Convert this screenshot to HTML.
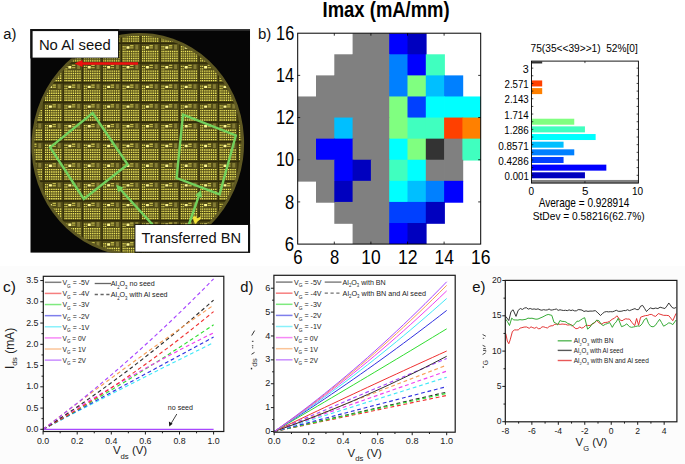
<!DOCTYPE html>
<html><head><meta charset="utf-8"><style>html,body{margin:0;padding:0;background:#fff;}svg{display:block;}</style></head>
<body><svg width="685" height="464" viewBox="0 0 685 464" font-family="Liberation Sans, sans-serif">
<rect width="685" height="464" fill="#fff"/>
<defs>
<clipPath id="wc"><ellipse cx="137.8" cy="144.5" rx="103.3" ry="108.8" transform="rotate(7.8 137.8 144.5)"/></clipPath>
<clipPath id="pc"><rect x="30.3" y="29.1" width="219.8" height="223.7"/></clipPath>
</defs>
<g clip-path="url(#pc)">
<rect x="30.3" y="29.1" width="219.8" height="223.7" fill="#060606"/>
<rect x="30.3" y="29.1" width="219.8" height="1.6" fill="#3a3a3a"/>
<ellipse cx="137.8" cy="144.5" rx="106.2" ry="111.7" transform="rotate(7.8 137.8 144.5)" fill="#5e5822"/>
<g clip-path="url(#wc)">
<rect x="30" y="29" width="221" height="224" fill="#524c17"/>
<path d="M25.6,31.75h232.8M25.6,51.45h232.8M25.6,71.15h232.8M25.6,90.85h232.8M25.6,110.55h232.8M25.6,130.25h232.8M25.6,149.95h232.8M25.6,169.65h232.8M25.6,189.35h232.8M25.6,209.05h232.8M25.6,228.75h232.8M25.6,248.45h232.8" stroke="#f0e85e" stroke-width="1.35" stroke-dasharray="1.2 0.6 1.2 0.9 1.4 0.8 1.4 0.8 1.4 0.8 1.4 0.8 1.4 0.8 1.4 3.1" fill="none"/>
<path d="M25.6,34.1h232.8M25.6,53.8h232.8M25.6,73.5h232.8M25.6,93.2h232.8M25.6,112.9h232.8M25.6,132.6h232.8M25.6,152.3h232.8M25.6,172h232.8M25.6,191.7h232.8M25.6,211.4h232.8M25.6,231.1h232.8M25.6,250.8h232.8" stroke="#f0e85e" stroke-width="1.35" stroke-dasharray="1.2 0.6 1.2 0.9 1.4 0.8 1.4 0.8 1.4 0.8 1.4 0.8 1.4 0.8 1.4 3.1" fill="none"/>
<path d="M25.6,36.45h232.8M25.6,56.15h232.8M25.6,75.85h232.8M25.6,95.55h232.8M25.6,115.25h232.8M25.6,134.95h232.8M25.6,154.65h232.8M25.6,174.35h232.8M25.6,194.05h232.8M25.6,213.75h232.8M25.6,233.45h232.8M25.6,253.15h232.8" stroke="#f0e85e" stroke-width="1.35" stroke-dasharray="1.2 0.6 1.2 0.9 1.4 0.8 1.4 0.8 1.4 0.8 1.4 0.8 1.4 0.8 1.4 3.1" fill="none"/>
<path d="M25.6,38.8h232.8M25.6,58.5h232.8M25.6,78.2h232.8M25.6,97.9h232.8M25.6,117.6h232.8M25.6,137.3h232.8M25.6,157h232.8M25.6,176.7h232.8M25.6,196.4h232.8M25.6,216.1h232.8M25.6,235.8h232.8M25.6,255.5h232.8" stroke="#f0e85e" stroke-width="1.35" stroke-dasharray="1.2 0.6 1.2 0.9 1.4 0.8 1.4 0.8 1.4 0.8 1.4 0.8 1.4 0.8 1.4 3.1" fill="none"/>
<path d="M25.6,41.15h232.8M25.6,60.85h232.8M25.6,80.55h232.8M25.6,100.25h232.8M25.6,119.95h232.8M25.6,139.65h232.8M25.6,159.35h232.8M25.6,179.05h232.8M25.6,198.75h232.8M25.6,218.45h232.8M25.6,238.15h232.8M25.6,257.85h232.8" stroke="#f0e85e" stroke-width="1.35" stroke-dasharray="1.2 0.6 1.2 0.9 1.4 0.8 1.4 0.8 1.4 0.8 1.4 0.8 1.4 0.8 1.4 3.1" fill="none"/>
<path d="M25.6,27.05h232.8M25.6,46.75h232.8M25.6,66.45h232.8M25.6,86.15h232.8M25.6,105.85h232.8M25.6,125.55h232.8M25.6,145.25h232.8M25.6,164.95h232.8M25.6,184.65h232.8M25.6,204.35h232.8M25.6,224.05h232.8M25.6,243.75h232.8" stroke="#ded656" stroke-width="1.3" stroke-dasharray="1.2 0.6 1.2 16.4" fill="none"/>
<path d="M25.6,29.4h232.8M25.6,49.1h232.8M25.6,68.8h232.8M25.6,88.5h232.8M25.6,108.2h232.8M25.6,127.9h232.8M25.6,147.6h232.8M25.6,167.3h232.8M25.6,187h232.8M25.6,206.7h232.8M25.6,226.4h232.8M25.6,246.1h232.8" stroke="#ded656" stroke-width="1.3" stroke-dasharray="1.2 0.6 1.2 16.4" fill="none"/>
<path d="M29.5,27.8h232.8M29.5,47.5h232.8M29.5,67.2h232.8M29.5,86.9h232.8M29.5,106.6h232.8M29.5,126.3h232.8M29.5,146h232.8M29.5,165.7h232.8M29.5,185.4h232.8M29.5,205.1h232.8M29.5,224.8h232.8M29.5,244.5h232.8" stroke="#fff890" stroke-width="2.4" stroke-dasharray="3 16.4" fill="none"/>
<path d="M33.1,26.05h232.8M33.1,45.75h232.8M33.1,65.45h232.8M33.1,85.15h232.8M33.1,104.85h232.8M33.1,124.55h232.8M33.1,144.25h232.8M33.1,163.95h232.8M33.1,183.65h232.8M33.1,203.35h232.8M33.1,223.05h232.8M33.1,242.75h232.8" stroke="#c4bc4c" stroke-width="1.3" stroke-dasharray="3.4 16" fill="none"/>
<path d="M33.1,28.15h232.8M33.1,47.85h232.8M33.1,67.55h232.8M33.1,87.25h232.8M33.1,106.95h232.8M33.1,126.65h232.8M33.1,146.35h232.8M33.1,166.05h232.8M33.1,185.75h232.8M33.1,205.45h232.8M33.1,225.15h232.8M33.1,244.85h232.8" stroke="#b4ac44" stroke-width="1.3" stroke-dasharray="3.4 16" fill="none"/>
<path d="M38.3,27.4h232.8M38.3,47.1h232.8M38.3,66.8h232.8M38.3,86.5h232.8M38.3,106.2h232.8M38.3,125.9h232.8M38.3,145.6h232.8M38.3,165.3h232.8M38.3,185h232.8M38.3,204.7h232.8M38.3,224.4h232.8M38.3,244.1h232.8" stroke="#847c34" stroke-width="4.6" stroke-dasharray="3 16.4" fill="none"/>
<path d="M30,23.6h221M30,43.3h221M30,63h221M30,82.7h221M30,102.4h221M30,122.1h221M30,141.8h221M30,161.5h221M30,181.2h221M30,200.9h221M30,220.6h221M30,240.3h221" stroke="#302b0a" stroke-width="1.6" fill="none"/>
<path d="M24.5,29v224M43.9,29v224M63.3,29v224M82.7,29v224M102.1,29v224M121.5,29v224M140.9,29v224M160.3,29v224M179.7,29v224M199.1,29v224M218.5,29v224M237.9,29v224" stroke="#332e0a" stroke-width="1.0" fill="none"/>
</g>
</g>
<polygon points="192.8,216.8 195.5,216.2 197.4,218.2 200.8,216.6 200.2,219.4 197.6,221.6 195.6,224 193.6,221.2" fill="#f2e238"/>
<polygon points="92.6,113 127.7,164.5 83.8,199 50.2,147.4" fill="none" stroke="#72d05c" stroke-width="2.4" stroke-linejoin="miter"/>
<polygon points="183,114.6 235.8,135.5 219.6,194.3 176.6,178" fill="none" stroke="#72d05c" stroke-width="2.4"/>
<line x1="152.9" y1="225" x2="120.48" y2="189.5" stroke="#72d05c" stroke-width="2.4"/>
<polygon points="116.1,184.7 123.48,187.44 118.16,192.3" fill="#72d05c"/>
<line x1="188.7" y1="225" x2="198.77" y2="196.04" stroke="#72d05c" stroke-width="2.4"/>
<polygon points="200.9,189.9 202,197.69 195.2,195.33" fill="#72d05c"/>
<line x1="138.1" y1="63.5" x2="82.1" y2="63.5" stroke="#f01010" stroke-width="2.6"/>
<polygon points="74.6,63.5 82.6,60 82.6,67" fill="#f01010"/>
<rect x="30.3" y="29.1" width="88.6" height="29.3" fill="#101010"/>
<rect x="32.6" y="31.1" width="85.4" height="26.5" fill="#fff"/>
<text x="38.91" y="50" font-size="15.36" textLength="71.78" lengthAdjust="spacingAndGlyphs" fill="#111">No Al seed</text>
<rect x="134.6" y="224.2" width="115.5" height="28.6" fill="#101010"/>
<rect x="135.4" y="225" width="112.6" height="26.6" fill="#fff"/>
<text x="141.41" y="243" font-size="15.36" textLength="99.72" lengthAdjust="spacingAndGlyphs" fill="#111">Transferred BN</text>
<text x="3.31" y="38.68" font-size="14.87" textLength="13.14" lengthAdjust="spacingAndGlyphs" fill="#111">a)</text>
<rect x="297.7" y="33.2" width="183" height="210.9" fill="#fff"/>
<clipPath id="hm"><rect x="297.7" y="33.2" width="183" height="210.9"/></clipPath><g clip-path="url(#hm)">
<rect x="352.6" y="33.2" width="19.1" height="21.89" fill="#808080"/>
<rect x="370.9" y="33.2" width="19.1" height="21.89" fill="#808080"/>
<rect x="389.2" y="33.2" width="19.1" height="21.89" fill="#0000ff"/>
<rect x="407.5" y="33.2" width="19.1" height="21.89" fill="#0000bf"/>
<rect x="334.3" y="54.29" width="19.1" height="21.89" fill="#808080"/>
<rect x="352.6" y="54.29" width="19.1" height="21.89" fill="#808080"/>
<rect x="370.9" y="54.29" width="19.1" height="21.89" fill="#808080"/>
<rect x="389.2" y="54.29" width="19.1" height="21.89" fill="#0080ff"/>
<rect x="407.5" y="54.29" width="19.1" height="21.89" fill="#0000ff"/>
<rect x="425.8" y="54.29" width="19.1" height="21.89" fill="#40ffbf"/>
<rect x="316" y="75.38" width="19.1" height="21.89" fill="#808080"/>
<rect x="334.3" y="75.38" width="19.1" height="21.89" fill="#808080"/>
<rect x="352.6" y="75.38" width="19.1" height="21.89" fill="#808080"/>
<rect x="370.9" y="75.38" width="19.1" height="21.89" fill="#808080"/>
<rect x="389.2" y="75.38" width="19.1" height="21.89" fill="#0080ff"/>
<rect x="407.5" y="75.38" width="19.1" height="21.89" fill="#80ff80"/>
<rect x="425.8" y="75.38" width="19.1" height="21.89" fill="#00bfff"/>
<rect x="444.1" y="75.38" width="19.1" height="21.89" fill="#0080ff"/>
<rect x="297.7" y="96.47" width="19.1" height="21.89" fill="#808080"/>
<rect x="316" y="96.47" width="19.1" height="21.89" fill="#808080"/>
<rect x="334.3" y="96.47" width="19.1" height="21.89" fill="#808080"/>
<rect x="352.6" y="96.47" width="19.1" height="21.89" fill="#808080"/>
<rect x="370.9" y="96.47" width="19.1" height="21.89" fill="#808080"/>
<rect x="389.2" y="96.47" width="19.1" height="21.89" fill="#80ff80"/>
<rect x="407.5" y="96.47" width="19.1" height="21.89" fill="#0040ff"/>
<rect x="425.8" y="96.47" width="19.1" height="21.89" fill="#00ffff"/>
<rect x="444.1" y="96.47" width="19.1" height="21.89" fill="#00ffff"/>
<rect x="462.4" y="96.47" width="19.1" height="21.89" fill="#00ffff"/>
<rect x="297.7" y="117.56" width="19.1" height="21.89" fill="#808080"/>
<rect x="316" y="117.56" width="19.1" height="21.89" fill="#808080"/>
<rect x="334.3" y="117.56" width="19.1" height="21.89" fill="#00bfff"/>
<rect x="352.6" y="117.56" width="19.1" height="21.89" fill="#808080"/>
<rect x="370.9" y="117.56" width="19.1" height="21.89" fill="#808080"/>
<rect x="389.2" y="117.56" width="19.1" height="21.89" fill="#80ff80"/>
<rect x="407.5" y="117.56" width="19.1" height="21.89" fill="#40ffbf"/>
<rect x="425.8" y="117.56" width="19.1" height="21.89" fill="#40ffbf"/>
<rect x="444.1" y="117.56" width="19.1" height="21.89" fill="#ff4000"/>
<rect x="462.4" y="117.56" width="19.1" height="21.89" fill="#ff8000"/>
<rect x="297.7" y="138.65" width="19.1" height="21.89" fill="#808080"/>
<rect x="316" y="138.65" width="19.1" height="21.89" fill="#0000ff"/>
<rect x="334.3" y="138.65" width="19.1" height="21.89" fill="#0000ff"/>
<rect x="352.6" y="138.65" width="19.1" height="21.89" fill="#808080"/>
<rect x="370.9" y="138.65" width="19.1" height="21.89" fill="#808080"/>
<rect x="389.2" y="138.65" width="19.1" height="21.89" fill="#00ffff"/>
<rect x="407.5" y="138.65" width="19.1" height="21.89" fill="#80ff80"/>
<rect x="425.8" y="138.65" width="19.1" height="21.89" fill="#333333"/>
<rect x="444.1" y="138.65" width="19.1" height="21.89" fill="#808080"/>
<rect x="462.4" y="138.65" width="19.1" height="21.89" fill="#40ffbf"/>
<rect x="297.7" y="159.74" width="19.1" height="21.89" fill="#808080"/>
<rect x="316" y="159.74" width="19.1" height="21.89" fill="#808080"/>
<rect x="334.3" y="159.74" width="19.1" height="21.89" fill="#0000ff"/>
<rect x="352.6" y="159.74" width="19.1" height="21.89" fill="#0000bf"/>
<rect x="370.9" y="159.74" width="19.1" height="21.89" fill="#808080"/>
<rect x="389.2" y="159.74" width="19.1" height="21.89" fill="#40ffbf"/>
<rect x="407.5" y="159.74" width="19.1" height="21.89" fill="#00ffff"/>
<rect x="425.8" y="159.74" width="19.1" height="21.89" fill="#808080"/>
<rect x="444.1" y="159.74" width="19.1" height="21.89" fill="#808080"/>
<rect x="316" y="180.83" width="19.1" height="21.89" fill="#808080"/>
<rect x="334.3" y="180.83" width="19.1" height="21.89" fill="#0000bf"/>
<rect x="352.6" y="180.83" width="19.1" height="21.89" fill="#808080"/>
<rect x="370.9" y="180.83" width="19.1" height="21.89" fill="#808080"/>
<rect x="389.2" y="180.83" width="19.1" height="21.89" fill="#00ffff"/>
<rect x="407.5" y="180.83" width="19.1" height="21.89" fill="#00bfff"/>
<rect x="425.8" y="180.83" width="19.1" height="21.89" fill="#0080ff"/>
<rect x="444.1" y="180.83" width="19.1" height="21.89" fill="#0000ff"/>
<rect x="334.3" y="201.92" width="19.1" height="21.89" fill="#808080"/>
<rect x="352.6" y="201.92" width="19.1" height="21.89" fill="#808080"/>
<rect x="370.9" y="201.92" width="19.1" height="21.89" fill="#808080"/>
<rect x="389.2" y="201.92" width="19.1" height="21.89" fill="#0040ff"/>
<rect x="407.5" y="201.92" width="19.1" height="21.89" fill="#0040ff"/>
<rect x="425.8" y="201.92" width="19.1" height="21.89" fill="#0000bf"/>
<rect x="352.6" y="223.01" width="19.1" height="21.89" fill="#808080"/>
<rect x="370.9" y="223.01" width="19.1" height="21.89" fill="#808080"/>
<rect x="389.2" y="223.01" width="19.1" height="21.89" fill="#0000ff"/>
<rect x="407.5" y="223.01" width="19.1" height="21.89" fill="#0000bf"/>
</g>
<path d="M334.3,33.2v2.5M334.3,244.1v-2.5M297.7,75.38h2.5M480.7,75.38h-2.5M370.9,33.2v2.5M370.9,244.1v-2.5M297.7,117.56h2.5M480.7,117.56h-2.5M407.5,33.2v2.5M407.5,244.1v-2.5M297.7,159.74h2.5M480.7,159.74h-2.5M444.1,33.2v2.5M444.1,244.1v-2.5M297.7,201.92h2.5M480.7,201.92h-2.5" stroke="#000" stroke-width="0.8" fill="none"/>
<rect x="297.7" y="33.2" width="183" height="210.9" fill="none" stroke="#000" stroke-width="1"/>
<text x="276.08" y="39.89" font-size="20.56" textLength="18.11" lengthAdjust="spacingAndGlyphs" fill="#000">16</text>
<text x="276.09" y="82.07" font-size="20.56" textLength="17.93" lengthAdjust="spacingAndGlyphs" fill="#000">14</text>
<text x="276.07" y="124.25" font-size="20.56" textLength="18.29" lengthAdjust="spacingAndGlyphs" fill="#000">12</text>
<text x="276.09" y="166.43" font-size="20.56" textLength="18.02" lengthAdjust="spacingAndGlyphs" fill="#000">10</text>
<text x="284.95" y="208.61" font-size="20.56" textLength="9.23" lengthAdjust="spacingAndGlyphs" fill="#000">8</text>
<text x="284.86" y="250.79" font-size="20.56" textLength="9.33" lengthAdjust="spacingAndGlyphs" fill="#000">6</text>
<text x="293.36" y="264.49" font-size="21.13" textLength="9.33" lengthAdjust="spacingAndGlyphs" fill="#000">6</text>
<text x="330.05" y="264.49" font-size="21.13" textLength="9.23" lengthAdjust="spacingAndGlyphs" fill="#000">8</text>
<text x="361.29" y="264.49" font-size="21.13" textLength="19.35" lengthAdjust="spacingAndGlyphs" fill="#000">10</text>
<text x="397.88" y="264.49" font-size="21.13" textLength="19.65" lengthAdjust="spacingAndGlyphs" fill="#000">12</text>
<text x="434.5" y="264.49" font-size="21.13" textLength="19.26" lengthAdjust="spacingAndGlyphs" fill="#000">14</text>
<text x="471.09" y="264.49" font-size="21.13" textLength="19.45" lengthAdjust="spacingAndGlyphs" fill="#000">16</text>
<text x="322.6" y="17.4" font-size="22.68" font-weight="bold" textLength="127.04" lengthAdjust="spacingAndGlyphs" fill="#000">Imax (mA/mm)</text>
<text x="258.02" y="38.68" font-size="14.87" textLength="13.34" lengthAdjust="spacingAndGlyphs" fill="#111">b)</text>
<clipPath id="hc"><rect x="531.5" y="61.5" width="106.9" height="121.6"/></clipPath>
<g clip-path="url(#hc)">
<rect x="531.5" y="179.95" width="112.24" height="6" fill="#808080"/>
<rect x="531.5" y="172.3" width="53.45" height="6" fill="#0000bf"/>
<rect x="531.5" y="164.64" width="74.83" height="6" fill="#0000ff"/>
<rect x="531.5" y="156.99" width="32.07" height="6" fill="#0040ff"/>
<rect x="531.5" y="149.33" width="42.76" height="6" fill="#0080ff"/>
<rect x="531.5" y="141.68" width="32.07" height="6" fill="#00bfff"/>
<rect x="531.5" y="134.03" width="64.14" height="6" fill="#00ffff"/>
<rect x="531.5" y="126.37" width="53.45" height="6" fill="#40ffbf"/>
<rect x="531.5" y="118.72" width="42.76" height="6" fill="#80ff80"/>
<rect x="531.5" y="88.1" width="10.69" height="6" fill="#ff8000"/>
<rect x="531.5" y="80.45" width="10.69" height="6" fill="#ff4000"/>
<rect x="531.5" y="57.49" width="10.69" height="6" fill="#333333"/>
</g>
<path d="M531.5,175.3h1.8M638.4,175.3h-1.8M531.5,167.64h1.8M638.4,167.64h-1.8M531.5,159.99h1.8M638.4,159.99h-1.8M531.5,152.33h1.8M638.4,152.33h-1.8M531.5,144.68h1.8M638.4,144.68h-1.8M531.5,137.03h1.8M638.4,137.03h-1.8M531.5,129.37h1.8M638.4,129.37h-1.8M531.5,121.72h1.8M638.4,121.72h-1.8M531.5,114.06h1.8M638.4,114.06h-1.8M531.5,106.41h1.8M638.4,106.41h-1.8M531.5,98.76h1.8M638.4,98.76h-1.8M531.5,91.1h1.8M638.4,91.1h-1.8M531.5,83.45h1.8M638.4,83.45h-1.8M531.5,75.79h1.8M638.4,75.79h-1.8M531.5,68.14h1.8M638.4,68.14h-1.8M584.95,61.1v2M584.95,183.1v-2" stroke="#000" stroke-width="0.7" fill="none"/>
<rect x="531.5" y="61.1" width="106.9" height="122" fill="none" stroke="#000" stroke-width="0.9"/>
<text x="504.61" y="180.49" font-size="10.7" textLength="24.14" lengthAdjust="spacingAndGlyphs" fill="#000">0.001</text>
<text x="498.3" y="165.09" font-size="10.7" textLength="30.38" lengthAdjust="spacingAndGlyphs" fill="#000">0.4286</text>
<text x="498.3" y="149.69" font-size="10.7" textLength="30.43" lengthAdjust="spacingAndGlyphs" fill="#000">0.8571</text>
<text x="504.27" y="134.29" font-size="10.7" textLength="24.45" lengthAdjust="spacingAndGlyphs" fill="#000">1.286</text>
<text x="504.27" y="118.89" font-size="10.7" textLength="24.35" lengthAdjust="spacingAndGlyphs" fill="#000">1.714</text>
<text x="504.52" y="103.49" font-size="10.7" textLength="24.19" lengthAdjust="spacingAndGlyphs" fill="#000">2.143</text>
<text x="504.52" y="88.09" font-size="10.7" textLength="24.24" lengthAdjust="spacingAndGlyphs" fill="#000">2.571</text>
<text x="522.77" y="72.69" font-size="10.7" textLength="5.97" lengthAdjust="spacingAndGlyphs" fill="#000">3</text>
<text x="528.6" y="194.89" font-size="10.85" textLength="5.56" lengthAdjust="spacingAndGlyphs" fill="#000">0</text>
<text x="582.04" y="194.89" font-size="10.85" textLength="6.44" lengthAdjust="spacingAndGlyphs" fill="#000">5</text>
<text x="631.95" y="194.89" font-size="10.85" textLength="11.12" lengthAdjust="spacingAndGlyphs" fill="#000">10</text>
<text x="530.59" y="51.59" font-size="10.7" textLength="107.26" lengthAdjust="spacingAndGlyphs" fill="#000" xml:space="preserve">75(35&lt;&lt;39&gt;&gt;1)  52%[0]</text>
<text x="538.7" y="207.4" font-size="11.88" textLength="90.63" lengthAdjust="spacingAndGlyphs" fill="#000">Average = 0.928914</text>
<text x="532.74" y="220.39" font-size="11.27" textLength="111.91" lengthAdjust="spacingAndGlyphs" fill="#000">StDev = 0.58216(62.7%)</text>
<rect x="0" y="266" width="685" height="198" fill="#fcfcfc"/>
<rect x="43.3" y="276.3" width="180.5" height="155.2" fill="#fff"/>
<path d="M43.1,429.3 L50.2,425.58 L57.31,421.88 L64.41,418.18 L71.52,414.49 L78.62,410.81 L85.72,407.14 L92.83,403.48 L99.93,399.82 L107.04,396.18 L114.14,392.54 L121.25,388.92 L128.35,385.3 L135.45,381.69 L142.56,378.09 L149.66,374.5 L156.77,370.92 L163.87,367.35 L170.97,363.79 L178.08,360.23 L185.18,356.69 L192.29,353.15 L199.39,349.63 L206.5,346.11 L213.6,342.6" fill="none" stroke="#40e8f8" stroke-width="1.15" stroke-dasharray="3.8 2.8"/>
<path d="M43.1,429.3 L50.2,425.46 L57.31,421.61 L64.41,417.77 L71.52,413.93 L78.62,410.09 L85.72,406.24 L92.83,402.4 L99.93,398.56 L107.04,394.72 L114.14,390.87 L121.25,387.03 L128.35,383.19 L135.45,379.34 L142.56,375.5 L149.66,371.66 L156.77,367.82 L163.87,363.97 L170.97,360.13 L178.08,356.29 L185.18,352.45 L192.29,348.6 L199.39,344.76 L206.5,340.92 L213.6,337.08" fill="none" stroke="#3030e0" stroke-width="1.15" stroke-dasharray="3.8 2.8"/>
<path d="M43.1,429.3 L50.2,425.36 L57.31,421.39 L64.41,417.37 L71.52,413.33 L78.62,409.24 L85.72,405.12 L92.83,400.97 L99.93,396.77 L107.04,392.54 L114.14,388.28 L121.25,383.98 L128.35,379.64 L135.45,375.26 L142.56,370.85 L149.66,366.41 L156.77,361.92 L163.87,357.4 L170.97,352.85 L178.08,348.26 L185.18,343.63 L192.29,338.96 L199.39,334.26 L206.5,329.52 L213.6,324.75" fill="none" stroke="#30dd30" stroke-width="1.15" stroke-dasharray="3.8 2.8"/>
<path d="M43.1,429.3 L50.2,424.78 L57.31,420.3 L64.41,415.87 L71.52,411.48 L78.62,407.13 L85.72,402.83 L92.83,398.57 L99.93,394.35 L107.04,390.18 L114.14,386.05 L121.25,381.97 L128.35,377.93 L135.45,373.93 L142.56,369.97 L149.66,366.06 L156.77,362.2 L163.87,358.37 L170.97,354.59 L178.08,350.86 L185.18,347.16 L192.29,343.51 L199.39,339.91 L206.5,336.34 L213.6,332.83" fill="none" stroke="#f040f0" stroke-width="1.15" stroke-dasharray="3.8 2.8"/>
<path d="M43.1,429.3 L50.2,425.33 L57.31,421.29 L64.41,417.16 L71.52,412.95 L78.62,408.66 L85.72,404.28 L92.83,399.83 L99.93,395.29 L107.04,390.67 L114.14,385.97 L121.25,381.19 L128.35,376.32 L135.45,371.38 L142.56,366.35 L149.66,361.24 L156.77,356.05 L163.87,350.78 L170.97,345.42 L178.08,339.98 L185.18,334.47 L192.29,328.87 L199.39,323.18 L206.5,317.42 L213.6,311.58" fill="none" stroke="#f03030" stroke-width="1.15" stroke-dasharray="3.8 2.8"/>
<path d="M43.1,429.3 L50.2,424.77 L57.31,420.16 L64.41,415.48 L71.52,410.73 L78.62,405.9 L85.72,401 L92.83,396.02 L99.93,390.97 L107.04,385.85 L114.14,380.65 L121.25,375.38 L128.35,370.03 L135.45,364.61 L142.56,359.11 L149.66,353.55 L156.77,347.9 L163.87,342.19 L170.97,336.4 L178.08,330.53 L185.18,324.59 L192.29,318.58 L199.39,312.5 L206.5,306.33 L213.6,300.1" fill="none" stroke="#303030" stroke-width="1.15" stroke-dasharray="3.8 2.8"/>
<path d="M43.1,429.3 L50.2,423.88 L57.31,418.48 L64.41,413.11 L71.52,407.75 L78.62,402.42 L85.72,397.11 L92.83,391.82 L99.93,386.55 L107.04,381.31 L114.14,376.08 L121.25,370.88 L128.35,365.7 L135.45,360.54 L142.56,355.4 L149.66,350.28 L156.77,345.19 L163.87,340.11 L170.97,335.06 L178.08,330.03 L185.18,325.02 L192.29,320.03 L199.39,315.07 L206.5,310.12 L213.6,305.2" fill="none" stroke="#f8a058" stroke-width="1.15" stroke-dasharray="3.8 2.8"/>
<path d="M43.1,429.3 L50.2,423.99 L57.31,418.6 L64.41,413.13 L71.52,407.57 L78.62,401.93 L85.72,396.2 L92.83,390.39 L99.93,384.5 L107.04,378.52 L114.14,372.46 L121.25,366.32 L128.35,360.09 L135.45,353.78 L142.56,347.39 L149.66,340.91 L156.77,334.35 L163.87,327.7 L170.97,320.98 L178.08,314.16 L185.18,307.27 L192.29,300.29 L199.39,293.23 L206.5,286.08 L213.6,278.85" fill="none" stroke="#a848ff" stroke-width="1.15" stroke-dasharray="3.8 2.8"/>
<line x1="43.1" y1="429.3" x2="213.6" y2="429.3" stroke="#a848ff" stroke-width="1.3"/>
<path d="M43.3,429.3h-3M43.3,408.05h-3M43.3,386.8h-3M43.3,365.55h-3M43.3,344.3h-3M43.3,323.05h-3M43.3,301.8h-3M43.3,280.55h-3M43.3,418.68h-1.8M43.3,397.43h-1.8M43.3,376.18h-1.8M43.3,354.93h-1.8M43.3,333.68h-1.8M43.3,312.43h-1.8M43.3,291.18h-1.8M43.1,431.5v3M77.2,431.5v3M111.3,431.5v3M145.4,431.5v3M179.5,431.5v3M213.6,431.5v3M60.15,431.5v1.8M94.25,431.5v1.8M128.35,431.5v1.8M162.45,431.5v1.8M196.55,431.5v1.8" stroke="#1a1a1a" stroke-width="1" fill="none"/>
<rect x="43.3" y="276.3" width="180.5" height="155.2" fill="none" stroke="#1a1a1a" stroke-width="1.2"/>
<text x="38.4" y="431.85" font-size="8.8" text-anchor="end" fill="#1a1a1a">0.0</text>
<text x="38.4" y="410.6" font-size="8.8" text-anchor="end" fill="#1a1a1a">0.5</text>
<text x="38.4" y="389.35" font-size="8.8" text-anchor="end" fill="#1a1a1a">1.0</text>
<text x="38.4" y="368.1" font-size="8.8" text-anchor="end" fill="#1a1a1a">1.5</text>
<text x="38.4" y="346.85" font-size="8.8" text-anchor="end" fill="#1a1a1a">2.0</text>
<text x="38.4" y="325.6" font-size="8.8" text-anchor="end" fill="#1a1a1a">2.5</text>
<text x="38.4" y="304.35" font-size="8.8" text-anchor="end" fill="#1a1a1a">3.0</text>
<text x="38.4" y="283.1" font-size="8.8" text-anchor="end" fill="#1a1a1a">3.5</text>
<text x="43.1" y="443.7" font-size="8.8" text-anchor="middle" fill="#1a1a1a">0.0</text>
<text x="77.2" y="443.7" font-size="8.8" text-anchor="middle" fill="#1a1a1a">0.2</text>
<text x="111.3" y="443.7" font-size="8.8" text-anchor="middle" fill="#1a1a1a">0.4</text>
<text x="145.4" y="443.7" font-size="8.8" text-anchor="middle" fill="#1a1a1a">0.6</text>
<text x="179.5" y="443.7" font-size="8.8" text-anchor="middle" fill="#1a1a1a">0.8</text>
<text x="213.6" y="443.7" font-size="8.8" text-anchor="middle" fill="#1a1a1a">1.0</text>
<line x1="44.8" y1="282.3" x2="61.4" y2="282.3" stroke="#303030" stroke-width="1.5" stroke-opacity="0.62"/>
<text x="62.5" y="285.2" font-size="8" fill="#222" textLength="26.9" lengthAdjust="spacingAndGlyphs">V<tspan font-size="5.44" dy="2.4">G</tspan><tspan dy="-2.4"> = -5V</tspan></text>
<line x1="44.8" y1="293.42" x2="61.4" y2="293.42" stroke="#f03030" stroke-width="1.5" stroke-opacity="0.62"/>
<text x="62.5" y="296.32" font-size="8" fill="#222" textLength="26.9" lengthAdjust="spacingAndGlyphs">V<tspan font-size="5.44" dy="2.4">G</tspan><tspan dy="-2.4"> = -4V</tspan></text>
<line x1="44.8" y1="304.54" x2="61.4" y2="304.54" stroke="#30dd30" stroke-width="1.5" stroke-opacity="0.62"/>
<text x="62.5" y="307.44" font-size="8" fill="#222" textLength="26.9" lengthAdjust="spacingAndGlyphs">V<tspan font-size="5.44" dy="2.4">G</tspan><tspan dy="-2.4"> = -3V</tspan></text>
<line x1="44.8" y1="315.66" x2="61.4" y2="315.66" stroke="#3030e0" stroke-width="1.5" stroke-opacity="0.62"/>
<text x="62.5" y="318.56" font-size="8" fill="#222" textLength="26.9" lengthAdjust="spacingAndGlyphs">V<tspan font-size="5.44" dy="2.4">G</tspan><tspan dy="-2.4"> = -2V</tspan></text>
<line x1="44.8" y1="326.78" x2="61.4" y2="326.78" stroke="#40e8f8" stroke-width="1.5" stroke-opacity="0.62"/>
<text x="62.5" y="329.68" font-size="8" fill="#222" textLength="26.9" lengthAdjust="spacingAndGlyphs">V<tspan font-size="5.44" dy="2.4">G</tspan><tspan dy="-2.4"> = -1V</tspan></text>
<line x1="44.8" y1="337.9" x2="61.4" y2="337.9" stroke="#f040f0" stroke-width="1.5" stroke-opacity="0.62"/>
<text x="62.5" y="340.8" font-size="8" fill="#222" textLength="23.5" lengthAdjust="spacingAndGlyphs">V<tspan font-size="5.44" dy="2.4">G</tspan><tspan dy="-2.4"> = 0V</tspan></text>
<line x1="44.8" y1="349.02" x2="61.4" y2="349.02" stroke="#f8a058" stroke-width="1.5" stroke-opacity="0.62"/>
<text x="62.5" y="351.92" font-size="8" fill="#222" textLength="23.5" lengthAdjust="spacingAndGlyphs">V<tspan font-size="5.44" dy="2.4">G</tspan><tspan dy="-2.4"> = 1V</tspan></text>
<line x1="44.8" y1="360.14" x2="61.4" y2="360.14" stroke="#a848ff" stroke-width="1.5" stroke-opacity="0.62"/>
<text x="62.5" y="363.04" font-size="8" fill="#222" textLength="23.5" lengthAdjust="spacingAndGlyphs">V<tspan font-size="5.44" dy="2.4">G</tspan><tspan dy="-2.4"> = 2V</tspan></text>
<line x1="94.7" y1="283.5" x2="111" y2="283.5" stroke="#333" stroke-width="1.3" stroke-opacity="0.75"/>
<line x1="94.7" y1="294.5" x2="111" y2="294.5" stroke="#333" stroke-width="1.3" stroke-opacity="0.75" stroke-dasharray="3.2 2.6"/>
<text x="110.8" y="286.2" font-size="7.6" fill="#222" textLength="44" lengthAdjust="spacingAndGlyphs">Al<tspan font-size="4.56" dy="2.4">2</tspan><tspan dy="-2.4">O</tspan><tspan font-size="4.56" dy="2.4">3</tspan><tspan dy="-2.4"> no seed</tspan></text>
<text x="110.8" y="297.2" font-size="7.6" fill="#222" textLength="56.8" lengthAdjust="spacingAndGlyphs">Al<tspan font-size="4.56" dy="2.4">2</tspan><tspan dy="-2.4">O</tspan><tspan font-size="4.56" dy="2.4">3</tspan><tspan dy="-2.4"> with Al seed</tspan></text>
<text x="167.8" y="410.2" font-size="7.2" textLength="25.2" lengthAdjust="spacingAndGlyphs" fill="#222">no seed</text>
<line x1="176.8" y1="414" x2="170.6" y2="424.3" stroke="#111" stroke-width="0.8"/>
<polygon points="169.3,426.5 168.9,421.6 172.6,423.8" fill="#111"/>
<text x="112.9" y="454.3" font-size="11.8" fill="#1a1a1a" textLength="34.3" lengthAdjust="spacingAndGlyphs">V<tspan font-size="8" dy="4.3">ds</tspan><tspan dy="-4.3"> (V)</tspan></text>
<text transform="translate(14.4,369) rotate(-90)" font-size="12" fill="#222">I<tspan font-size="8" dy="2.9">ds</tspan><tspan dy="-2.9"> (mA)</tspan></text>
<text x="2.98" y="291.88" font-size="14.87" textLength="12.9" lengthAdjust="spacingAndGlyphs" fill="#111">c)</text>
<rect x="273.9" y="275.3" width="181.3" height="156.9" fill="#fff"/>
<line x1="274.2" y1="431.5" x2="446.7" y2="392.1" stroke="#303030" stroke-width="1.15" stroke-dasharray="3.8 2.8"/>
<line x1="274.2" y1="431.5" x2="446.7" y2="395.44" stroke="#f03030" stroke-width="1.15" stroke-dasharray="3.8 2.8"/>
<line x1="274.2" y1="431.5" x2="446.7" y2="393.29" stroke="#30dd30" stroke-width="1.15" stroke-dasharray="3.8 2.8"/>
<line x1="274.2" y1="431.5" x2="446.7" y2="386.61" stroke="#3030e0" stroke-width="1.15" stroke-dasharray="3.8 2.8"/>
<line x1="274.2" y1="431.5" x2="446.7" y2="377.29" stroke="#40e8f8" stroke-width="1.15" stroke-dasharray="3.8 2.8"/>
<line x1="274.2" y1="431.5" x2="446.7" y2="371.08" stroke="#f040f0" stroke-width="1.15" stroke-dasharray="3.8 2.8"/>
<line x1="274.2" y1="431.5" x2="446.7" y2="365.11" stroke="#f8a058" stroke-width="1.15" stroke-dasharray="3.8 2.8"/>
<line x1="274.2" y1="431.5" x2="446.7" y2="358.43" stroke="#a848ff" stroke-width="1.15" stroke-dasharray="3.8 2.8"/>
<path d="M274.2,431.5 L281.39,428.97 L288.57,426.38 L295.76,423.74 L302.95,421.05 L310.14,418.31 L317.32,415.52 L324.51,412.67 L331.7,409.77 L338.89,406.82 L346.07,403.81 L353.26,400.76 L360.45,397.65 L367.64,394.49 L374.82,391.28 L382.01,388.01 L389.2,384.7 L396.39,381.33 L403.57,377.9 L410.76,374.43 L417.95,370.9 L425.14,367.33 L432.32,363.7 L439.51,360.01 L446.7,356.28" fill="none" stroke="#303030" stroke-width="1"/>
<path d="M274.2,431.5 L281.39,428.05 L288.57,424.61 L295.76,421.18 L302.95,417.75 L310.14,414.34 L317.32,410.93 L324.51,407.53 L331.7,404.14 L338.89,400.76 L346.07,397.38 L353.26,394.02 L360.45,390.66 L367.64,387.31 L374.82,383.97 L382.01,380.64 L389.2,377.31 L396.39,374 L403.57,370.69 L410.76,367.39 L417.95,364.1 L425.14,360.82 L432.32,357.55 L439.51,354.28 L446.7,351.02" fill="none" stroke="#f03030" stroke-width="1"/>
<path d="M274.2,431.5 L281.39,427.3 L288.57,423.1 L295.76,418.89 L302.95,414.67 L310.14,410.45 L317.32,406.21 L324.51,401.97 L331.7,397.73 L338.89,393.47 L346.07,389.21 L353.26,384.95 L360.45,380.67 L367.64,376.39 L374.82,372.1 L382.01,367.8 L389.2,363.5 L396.39,359.19 L403.57,354.87 L410.76,350.55 L417.95,346.22 L425.14,341.88 L432.32,337.53 L439.51,333.18 L446.7,328.82" fill="none" stroke="#30dd30" stroke-width="1"/>
<path d="M274.2,431.5 L281.39,426.99 L288.57,422.43 L295.76,417.82 L302.95,413.17 L310.14,408.47 L317.32,403.73 L324.51,398.94 L331.7,394.1 L338.89,389.22 L346.07,384.29 L353.26,379.32 L360.45,374.29 L367.64,369.23 L374.82,364.11 L382.01,358.95 L389.2,353.75 L396.39,348.49 L403.57,343.19 L410.76,337.85 L417.95,332.46 L425.14,327.02 L432.32,321.54 L439.51,316 L446.7,310.43" fill="none" stroke="#3030e0" stroke-width="1"/>
<path d="M274.2,431.5 L281.39,426.81 L288.57,422.04 L295.76,417.2 L302.95,412.29 L310.14,407.3 L317.32,402.24 L324.51,397.1 L331.7,391.89 L338.89,386.61 L346.07,381.25 L353.26,375.82 L360.45,370.31 L367.64,364.74 L374.82,359.08 L382.01,353.36 L389.2,347.55 L396.39,341.68 L403.57,335.73 L410.76,329.71 L417.95,323.61 L425.14,317.44 L432.32,311.2 L439.51,304.88 L446.7,298.49" fill="none" stroke="#40e8f8" stroke-width="1"/>
<path d="M274.2,431.5 L281.39,426.65 L288.57,421.71 L295.76,416.69 L302.95,411.57 L310.14,406.37 L317.32,401.08 L324.51,395.71 L331.7,390.24 L338.89,384.69 L346.07,379.05 L353.26,373.32 L360.45,367.5 L367.64,361.6 L374.82,355.61 L382.01,349.53 L389.2,343.36 L396.39,337.1 L403.57,330.76 L410.76,324.33 L417.95,317.81 L425.14,311.2 L432.32,304.5 L439.51,297.72 L446.7,290.85" fill="none" stroke="#f040f0" stroke-width="1"/>
<path d="M274.2,431.5 L281.39,426.52 L288.57,421.44 L295.76,416.27 L302.95,411 L310.14,405.63 L317.32,400.17 L324.51,394.61 L331.7,388.96 L338.89,383.2 L346.07,377.36 L353.26,371.41 L360.45,365.37 L367.64,359.23 L374.82,353 L382.01,346.67 L389.2,340.24 L396.39,333.72 L403.57,327.1 L410.76,320.38 L417.95,313.57 L425.14,306.66 L432.32,299.65 L439.51,292.55 L446.7,285.35" fill="none" stroke="#f8a058" stroke-width="1"/>
<path d="M274.2,431.5 L281.39,426.4 L288.57,421.2 L295.76,415.9 L302.95,410.5 L310.14,405 L317.32,399.4 L324.51,393.71 L331.7,387.91 L338.89,382.02 L346.07,376.03 L353.26,369.94 L360.45,363.75 L367.64,357.46 L374.82,351.07 L382.01,344.59 L389.2,338 L396.39,331.32 L403.57,324.54 L410.76,317.66 L417.95,310.68 L425.14,303.6 L432.32,296.42 L439.51,289.15 L446.7,281.77" fill="none" stroke="#a848ff" stroke-width="1"/>
<path d="M273.9,431.5h-3M273.9,407.62h-3M273.9,383.74h-3M273.9,359.86h-3M273.9,335.98h-3M273.9,312.1h-3M273.9,288.22h-3M273.9,419.56h-1.8M273.9,395.68h-1.8M273.9,371.8h-1.8M273.9,347.92h-1.8M273.9,324.04h-1.8M273.9,300.16h-1.8M274.2,432.2v3M308.7,432.2v3M343.2,432.2v3M377.7,432.2v3M412.2,432.2v3M446.7,432.2v3M291.45,432.2v1.8M325.95,432.2v1.8M360.45,432.2v1.8M394.95,432.2v1.8M429.45,432.2v1.8" stroke="#1a1a1a" stroke-width="1" fill="none"/>
<rect x="273.9" y="275.3" width="181.3" height="156.9" fill="none" stroke="#1a1a1a" stroke-width="1.2"/>
<text x="270.3" y="434.05" font-size="9.1" text-anchor="end" fill="#1a1a1a">0</text>
<text x="270.3" y="410.17" font-size="9.1" text-anchor="end" fill="#1a1a1a">1</text>
<text x="270.3" y="386.29" font-size="9.1" text-anchor="end" fill="#1a1a1a">2</text>
<text x="270.3" y="362.41" font-size="9.1" text-anchor="end" fill="#1a1a1a">3</text>
<text x="270.3" y="338.53" font-size="9.1" text-anchor="end" fill="#1a1a1a">4</text>
<text x="270.3" y="314.65" font-size="9.1" text-anchor="end" fill="#1a1a1a">5</text>
<text x="270.3" y="290.77" font-size="9.1" text-anchor="end" fill="#1a1a1a">6</text>
<text x="274.2" y="443.7" font-size="9.1" text-anchor="middle" fill="#1a1a1a">0.0</text>
<text x="308.7" y="443.7" font-size="9.1" text-anchor="middle" fill="#1a1a1a">0.2</text>
<text x="343.2" y="443.7" font-size="9.1" text-anchor="middle" fill="#1a1a1a">0.4</text>
<text x="377.7" y="443.7" font-size="9.1" text-anchor="middle" fill="#1a1a1a">0.6</text>
<text x="412.2" y="443.7" font-size="9.1" text-anchor="middle" fill="#1a1a1a">0.8</text>
<text x="446.7" y="443.7" font-size="9.1" text-anchor="middle" fill="#1a1a1a">1.0</text>
<line x1="275.9" y1="282.1" x2="292.5" y2="282.1" stroke="#303030" stroke-width="1.5" stroke-opacity="0.62"/>
<text x="294" y="285" font-size="8" fill="#222" textLength="27.6" lengthAdjust="spacingAndGlyphs">V<tspan font-size="5.44" dy="2.4">G</tspan><tspan dy="-2.4"> = -5V</tspan></text>
<line x1="275.9" y1="293.2" x2="292.5" y2="293.2" stroke="#f03030" stroke-width="1.5" stroke-opacity="0.62"/>
<text x="294" y="296.1" font-size="8" fill="#222" textLength="27.6" lengthAdjust="spacingAndGlyphs">V<tspan font-size="5.44" dy="2.4">G</tspan><tspan dy="-2.4"> = -4V</tspan></text>
<line x1="275.9" y1="304.3" x2="292.5" y2="304.3" stroke="#30dd30" stroke-width="1.5" stroke-opacity="0.62"/>
<text x="294" y="307.2" font-size="8" fill="#222" textLength="27.6" lengthAdjust="spacingAndGlyphs">V<tspan font-size="5.44" dy="2.4">G</tspan><tspan dy="-2.4"> = -3V</tspan></text>
<line x1="275.9" y1="315.4" x2="292.5" y2="315.4" stroke="#3030e0" stroke-width="1.5" stroke-opacity="0.62"/>
<text x="294" y="318.3" font-size="8" fill="#222" textLength="27.6" lengthAdjust="spacingAndGlyphs">V<tspan font-size="5.44" dy="2.4">G</tspan><tspan dy="-2.4"> = -2V</tspan></text>
<line x1="275.9" y1="326.5" x2="292.5" y2="326.5" stroke="#40e8f8" stroke-width="1.5" stroke-opacity="0.62"/>
<text x="294" y="329.4" font-size="8" fill="#222" textLength="27.6" lengthAdjust="spacingAndGlyphs">V<tspan font-size="5.44" dy="2.4">G</tspan><tspan dy="-2.4"> = -1V</tspan></text>
<line x1="275.9" y1="337.6" x2="292.5" y2="337.6" stroke="#f040f0" stroke-width="1.5" stroke-opacity="0.62"/>
<text x="294" y="340.5" font-size="8" fill="#222" textLength="24" lengthAdjust="spacingAndGlyphs">V<tspan font-size="5.44" dy="2.4">G</tspan><tspan dy="-2.4"> = 0V</tspan></text>
<line x1="275.9" y1="348.7" x2="292.5" y2="348.7" stroke="#f8a058" stroke-width="1.5" stroke-opacity="0.62"/>
<text x="294" y="351.6" font-size="8" fill="#222" textLength="24" lengthAdjust="spacingAndGlyphs">V<tspan font-size="5.44" dy="2.4">G</tspan><tspan dy="-2.4"> = 1V</tspan></text>
<line x1="275.9" y1="359.8" x2="292.5" y2="359.8" stroke="#a848ff" stroke-width="1.5" stroke-opacity="0.62"/>
<text x="294" y="362.7" font-size="8" fill="#222" textLength="24" lengthAdjust="spacingAndGlyphs">V<tspan font-size="5.44" dy="2.4">G</tspan><tspan dy="-2.4"> = 2V</tspan></text>
<line x1="324.7" y1="282.1" x2="341.5" y2="282.1" stroke="#333" stroke-width="1.3" stroke-opacity="0.7"/>
<line x1="324.7" y1="293.2" x2="341.5" y2="293.2" stroke="#333" stroke-width="1.3" stroke-opacity="0.7" stroke-dasharray="3.2 2.6"/>
<text x="342.6" y="284.6" font-size="7.6" fill="#222" textLength="43.1" lengthAdjust="spacingAndGlyphs">Al<tspan font-size="4.56" dy="2.4">2</tspan><tspan dy="-2.4">O</tspan><tspan font-size="4.56" dy="2.4">3</tspan><tspan dy="-2.4"> with BN</tspan></text>
<text x="342.6" y="295.8" font-size="7.6" fill="#222" textLength="83.4" lengthAdjust="spacingAndGlyphs">Al<tspan font-size="4.56" dy="2.4">2</tspan><tspan dy="-2.4">O</tspan><tspan font-size="4.56" dy="2.4">3</tspan><tspan dy="-2.4"> with BN and Al seed</tspan></text>
<text x="347.6" y="456.8" font-size="11.8" fill="#1a1a1a" textLength="34.3" lengthAdjust="spacingAndGlyphs">V<tspan font-size="8" dy="4.1">ds</tspan><tspan dy="-4.1"> (V)</tspan></text>
<text transform="translate(257.4,366.8) rotate(-90)" font-size="8" fill="#333">ds</text>
<rect x="250.8" y="367.8" width="1.4" height="1.6" fill="#333"/>
<path d="M251.7,335.5L254.6,330.6M251.9,341.3h1.6M251.9,345.8h1.4M252.1,347.8h1.1M251.5,354.3L254.5,352.4" stroke="#333" stroke-width="1" fill="none"/>
<text x="240.31" y="291.52" font-size="14.65" textLength="13.14" lengthAdjust="spacingAndGlyphs" fill="#111">d)</text>
<rect x="505.3" y="280.4" width="171.6" height="141.4" fill="#fff"/>
<polyline points="505.8,333.67 507.3,340.99 508.8,343.73 510.2,339.81 512.4,331.49 514.6,329.9 516.42,329.95 518.25,329.88 520.08,328.14 521.9,327.66 524.1,327.07 526.65,326.97 529.2,328.32 531.03,326.8 532.85,327.69 534.67,328.24 536.5,327.26 538.33,328.69 540.15,328.6 541.97,326.86 543.8,326.85 545.6,327.53 547.4,327.98 549.2,326.51 551,325.83 552.85,325.69 554.7,324.36 556.55,324.19 558.4,324.08 560.23,324.38 562.05,324.04 563.88,324.22 565.7,324.39 567.52,325.06 569.35,324.9 571.17,324.56 573,326.38 575.9,328.71 577.85,328.4 579.8,327.01 581.75,328.14 583.7,327.39 585.65,325.43 587.6,325.37 590,325.64 592.2,324.09 594.4,323.01 596.6,320.44 599.2,322.91 601.8,324.24 603.77,322.68 605.75,322.43 607.73,322.19 609.7,321.29 612.1,319.31 614.5,318.18 616.9,315.77 620.2,320.09 622.04,320.79 623.88,319.63 625.72,318.75 627.56,319.1 629.4,319.01 632.05,322.6 634.7,325.65 636.6,318.48 638.6,325.22 640.6,317.26 643,316.31 645.4,315.62 647.8,315.38 649.77,314.46 651.75,314.49 653.73,315.81 655.7,316.37 658.3,313.59 660.95,314.49 663.6,315.34 666.2,315.35 668.8,315.66 670.8,318.19 672.8,320.68 676.1,313.4" fill="none" stroke="#e02020" stroke-width="0.9"/>
<polyline points="505.8,319.31 507.3,321.4 509.5,325.51 511.7,318.17 513.77,319.92 515.85,319.97 517.92,320.09 520,319.62 522,319.91 524,319.61 526,319.26 528,318.12 530,318.36 532,318.19 534,318.75 536,319.19 538,319 540,318.09 542.05,317.24 544.1,316.24 546.15,315.12 548.2,314.45 551.8,315.33 554,322.34 555.85,323.21 557.7,324.98 559.9,320.55 562.05,321.37 564.2,321.47 566.03,321.97 567.85,323.5 569.67,324.05 571.5,325.72 573.33,325.4 575.15,323.45 576.97,321.16 578.8,321.29 580.77,319.89 582.73,318.57 584.7,317.71 587.6,329.13 590,327.08 592.2,323.81 594.4,322.66 596.6,320.22 598.77,320.59 600.93,323.74 603.1,325.63 605.3,324.26 607.5,323.53 609.7,322.58 612.3,327.35 614.27,323.87 616.23,321.9 618.2,318.31 621.5,326.67 624.15,325.7 626.8,323.82 629.4,326.64 631.5,327.34 633.6,326.95 635.7,326.47 637.8,325.94 639.9,326.15 642.1,323.83 644.3,319.7 646.5,318.12 648.5,323.44 650.8,326.37 653.1,326.82 655.27,325.48 657.43,322.35 659.6,319.31 661.6,322.64 663.6,326.2 666.2,324.73 668.8,322.82 670.8,323.32 672.8,324.62 676.1,320" fill="none" stroke="#20a020" stroke-width="0.9"/>
<polyline points="505.8,316.48 508.8,320.57 511,311.59 513.1,309.77 516,316.4 518.2,310.3 520.4,308.52 522.37,309.44 524.33,308.11 526.3,307.67 528.26,309.11 530.21,308.48 532.17,309.28 534.13,308.92 536.09,309.39 538.04,308.83 540,309.82 541.82,310.21 543.64,309.67 545.45,310.04 547.27,309.95 549.09,308.99 550.91,310.12 552.73,309.87 554.55,309.43 556.36,309.01 558.18,310.37 560,309.76 561.82,310.2 563.64,310.5 565.45,310.28 567.27,310.66 569.09,309.86 570.91,310.55 572.73,310.03 574.55,310.86 576.36,310.82 578.18,309.61 580,309.72 582,310.07 584,311.48 586,310.86 588,311.38 590,311.08 592.65,311.11 595.3,310.62 597.9,312.86 600.5,315.54 602.5,313.53 604.5,312.05 606.47,311.59 608.43,311.89 610.4,311.67 612.37,311.79 614.33,311.17 616.3,310.26 618.17,311.28 620.04,311.34 621.91,311.15 623.79,310.51 625.66,310.64 627.53,309.74 629.4,310.63 631.24,309.96 633.08,309.24 634.92,308.62 636.76,309.63 638.6,309.58 640.6,306.19 642.6,305.38 644.55,308.36 646.5,311.54 648.45,309.47 650.4,307.93 653.05,308.75 655.7,308.07 657.9,308.55 660.1,307.21 662.3,307.85 664.9,308.53 666.85,306.11 668.8,302.97 672.1,307.51 674.1,308.3 676.1,307.5" fill="none" stroke="#202020" stroke-width="0.9"/>
<path d="M505.3,421.7h-3M505.3,386.4h-3M505.3,351.1h-3M505.3,315.8h-3M505.3,280.5h-3M505.3,404.05h-1.8M505.3,368.75h-1.8M505.3,333.45h-1.8M505.3,298.15h-1.8M505.4,421.8v3M531.86,421.8v3M558.32,421.8v3M584.78,421.8v3M611.24,421.8v3M637.7,421.8v3M664.16,421.8v3M518.63,421.8v1.8M545.09,421.8v1.8M571.55,421.8v1.8M598.01,421.8v1.8M624.47,421.8v1.8M650.93,421.8v1.8" stroke="#1a1a1a" stroke-width="1" fill="none"/>
<rect x="505.3" y="280.4" width="171.6" height="141.4" fill="none" stroke="#1a1a1a" stroke-width="1.2"/>
<text x="501.5" y="424.25" font-size="8.6" text-anchor="end" fill="#1a1a1a">0</text>
<text x="501.5" y="388.95" font-size="8.6" text-anchor="end" fill="#1a1a1a">5</text>
<text x="501.5" y="353.65" font-size="8.6" text-anchor="end" fill="#1a1a1a">10</text>
<text x="501.5" y="318.35" font-size="8.6" text-anchor="end" fill="#1a1a1a">15</text>
<text x="501.5" y="283.05" font-size="8.6" text-anchor="end" fill="#1a1a1a">20</text>
<text x="505.4" y="433.8" font-size="8.6" text-anchor="middle" fill="#1a1a1a">-8</text>
<text x="531.86" y="433.8" font-size="8.6" text-anchor="middle" fill="#1a1a1a">-6</text>
<text x="558.32" y="433.8" font-size="8.6" text-anchor="middle" fill="#1a1a1a">-4</text>
<text x="584.78" y="433.8" font-size="8.6" text-anchor="middle" fill="#1a1a1a">-2</text>
<text x="611.24" y="433.8" font-size="8.6" text-anchor="middle" fill="#1a1a1a">0</text>
<text x="637.7" y="433.8" font-size="8.6" text-anchor="middle" fill="#1a1a1a">2</text>
<text x="664.16" y="433.8" font-size="8.6" text-anchor="middle" fill="#1a1a1a">4</text>
<line x1="557.7" y1="340.8" x2="571.7" y2="340.8" stroke="#20a020" stroke-width="1.4" stroke-opacity="0.75"/>
<text x="573.8" y="343.2" font-size="6.6" fill="#222" textLength="39.6" lengthAdjust="spacingAndGlyphs">Al<tspan font-size="3.96" dy="2.4">2</tspan><tspan dy="-2.4">O</tspan><tspan font-size="3.96" dy="2.4">3</tspan><tspan dy="-2.4"> with BN</tspan></text>
<line x1="557.7" y1="350.4" x2="571.7" y2="350.4" stroke="#202020" stroke-width="1.4" stroke-opacity="0.75"/>
<text x="573.8" y="352.8" font-size="6.6" fill="#222" textLength="49.5" lengthAdjust="spacingAndGlyphs">Al<tspan font-size="3.96" dy="2.4">2</tspan><tspan dy="-2.4">O</tspan><tspan font-size="3.96" dy="2.4">3</tspan><tspan dy="-2.4"> with Al seed</tspan></text>
<line x1="557.7" y1="360.5" x2="571.7" y2="360.5" stroke="#e02020" stroke-width="1.4" stroke-opacity="0.75"/>
<text x="573.8" y="362.9" font-size="6.6" fill="#222" textLength="75" lengthAdjust="spacingAndGlyphs">Al<tspan font-size="3.96" dy="2.4">2</tspan><tspan dy="-2.4">O</tspan><tspan font-size="3.96" dy="2.4">3</tspan><tspan dy="-2.4"> with BN and Al seed</tspan></text>
<text x="575.6" y="446.2" font-size="11.3" fill="#1a1a1a" textLength="31.7" lengthAdjust="spacingAndGlyphs">V<tspan font-size="7.6" dy="4.3">G</tspan><tspan dy="-4.3"> (V)</tspan></text>
<text transform="translate(487.8,365.2) rotate(-90)" font-size="6.6" fill="#333">G</text>
<rect x="482.6" y="366.4" width="1.3" height="1.4" fill="#333"/>
<path d="M482.6,334.5L485.8,336.2M482.8,338.3h1.4M482.6,345.3l2.8,1.4M483.2,348.6h2.6M483,350.4h2.8v1.2M482.6,354.6L485.6,352.8" stroke="#333" stroke-width="0.9" fill="none"/>
<text x="472.2" y="291.87" font-size="14.44" textLength="13.25" lengthAdjust="spacingAndGlyphs" fill="#111">e)</text>
</svg></body></html>
